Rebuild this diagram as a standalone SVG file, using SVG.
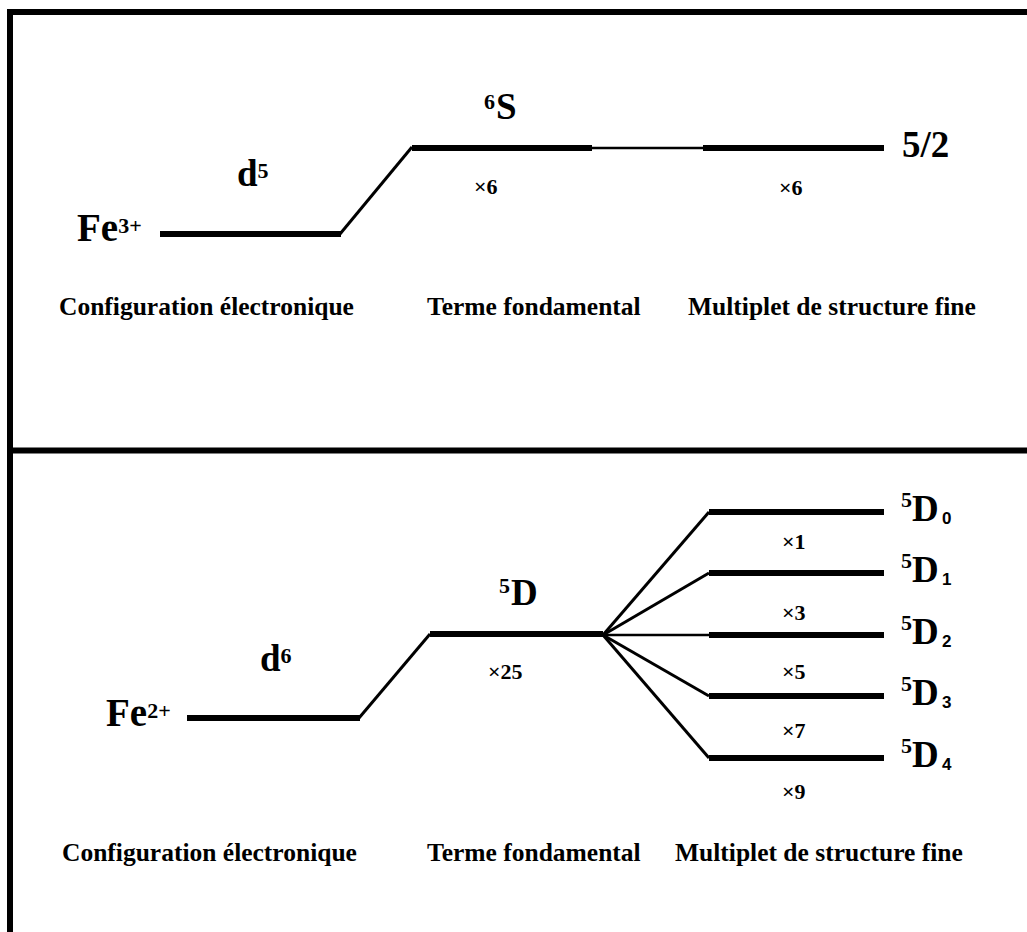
<svg xmlns="http://www.w3.org/2000/svg" width="1027" height="932" viewBox="0 0 1027 932">
<style>
.t{font-family:'Liberation Serif','DejaVu Serif','Times New Roman',serif;font-weight:700;fill:#000}
.s{font-family:'Liberation Sans','DejaVu Sans',Arial,sans-serif;font-weight:700;fill:#000}
.big{font-size:37px}
.fe{font-size:39px}
.sup{font-size:22px}
.mul{font-size:22px}
.sub{font-size:17px}
.lab{font-size:25.5px}
.lvl{stroke:#000;stroke-width:6;fill:none}
.ln{stroke:#000;stroke-width:3;fill:none}
.thin{stroke:#000;stroke-width:2.5;fill:none}
.frame{stroke:#000;stroke-width:6;fill:none}
</style>
<rect width="1027" height="932" fill="#fff"/>
<g id="frame">
<line class="frame" x1="10" y1="9" x2="10" y2="932"/>
<line class="frame" x1="7" y1="12" x2="1027" y2="12"/>
<line class="frame" x1="7" y1="450.5" x2="1027" y2="450.5"/>
</g>
<g id="connectors">
<line class="ln" x1="340" y1="234" x2="412" y2="147"/>
<line class="thin" x1="592" y1="148" x2="703" y2="148"/>
<line class="ln" x1="359" y1="718" x2="430" y2="634"/>
<line class="ln" x1="603" y1="635" x2="709" y2="512"/>
<line class="ln" x1="603" y1="635" x2="709" y2="573"/>
<line class="thin" x1="603" y1="635" x2="709" y2="635"/>
<line class="ln" x1="603" y1="635" x2="709" y2="696"/>
<line class="ln" x1="603" y1="635" x2="709" y2="758"/>
</g>
<g id="fe3-config">
<line class="lvl" x1="160" y1="234" x2="341" y2="234"/>
<text class="t fe" x="77" y="241">Fe<tspan class="sup" dy="-8">3+</tspan></text>
<text class="t big" x="237" y="186">d<tspan class="sup" dy="-8">5</tspan></text>
</g>
<g id="fe3-term">
<line class="lvl" x1="412" y1="148" x2="592" y2="148"/>
<text class="t sup" x="484" y="109">6</text>
<text class="t big" x="496" y="119">S</text>
<text class="t mul" x="474" y="194">×6</text>
</g>
<g id="fe3-multiplet">
<line class="lvl" x1="703" y1="148" x2="884" y2="148"/>
<text class="t big" x="902" y="157">5/2</text>
<text class="t mul" x="779" y="195">×6</text>
</g>
<g id="top-labels">
<text class="t lab" x="59" y="315">Configuration électronique</text>
<text class="t lab" x="427" y="315">Terme fondamental</text>
<text class="t lab" x="688" y="315">Multiplet de structure fine</text>
</g>
<g id="fe2-config">
<line class="lvl" x1="187" y1="718" x2="360" y2="718"/>
<text class="t fe" x="106" y="726">Fe<tspan class="sup" dy="-8">2+</tspan></text>
<text class="t big" x="260" y="671">d<tspan class="sup" dy="-8">6</tspan></text>
</g>
<g id="fe2-term">
<line class="lvl" x1="430" y1="634" x2="603" y2="634"/>
<text class="t sup" x="499" y="593">5</text>
<text class="t big" x="511" y="605">D</text>
<text class="t mul" x="488" y="679">×25</text>
</g>
<g id="d0">
<line class="lvl" x1="709" y1="512" x2="884" y2="512"/>
<text class="t sup" x="901" y="507">5</text><text class="t big" x="912" y="521">D</text><text class="s sub" x="942" y="524">0</text>
<text class="t mul" x="782" y="549">×1</text>
</g>
<g id="d1">
<line class="lvl" x1="709" y1="573" x2="884" y2="573"/>
<text class="t sup" x="901" y="568">5</text><text class="t big" x="912" y="582">D</text><text class="s sub" x="942" y="585">1</text>
<text class="t mul" x="782" y="620">×3</text>
</g>
<g id="d2">
<line class="lvl" x1="709" y1="635" x2="884" y2="635"/>
<text class="t sup" x="901" y="630">5</text><text class="t big" x="912" y="644">D</text><text class="s sub" x="942" y="647">2</text>
<text class="t mul" x="782" y="679">×5</text>
</g>
<g id="d3">
<line class="lvl" x1="709" y1="696" x2="884" y2="696"/>
<text class="t sup" x="901" y="691">5</text><text class="t big" x="912" y="705">D</text><text class="s sub" x="942" y="708">3</text>
<text class="t mul" x="782" y="738">×7</text>
</g>
<g id="d4">
<line class="lvl" x1="709" y1="758" x2="884" y2="758"/>
<text class="t sup" x="901" y="753">5</text><text class="t big" x="912" y="767">D</text><text class="s sub" x="942" y="770">4</text>
<text class="t mul" x="782" y="799">×9</text>
</g>
<g id="bottom-labels">
<text class="t lab" x="62" y="861">Configuration électronique</text>
<text class="t lab" x="427" y="861">Terme fondamental</text>
<text class="t lab" x="675" y="861">Multiplet de structure fine</text>
</g>
</svg>
